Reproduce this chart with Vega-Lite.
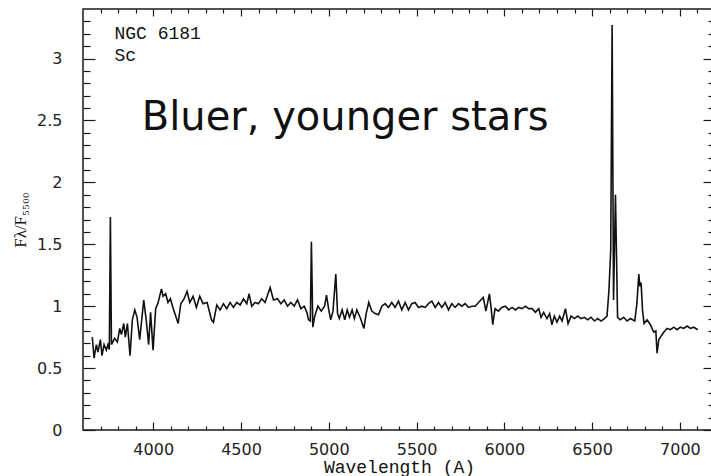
{
  "$schema": "https://vega.github.io/schema/vega-lite/v6.json",
  "width": 632,
  "height": 421,
  "autosize": "none",
  "padding": {"left": 83, "top": 9, "right": -4, "bottom": 46},
  "background": "white",
  "config": {
    "view": {"stroke": "#1a1a1a", "strokeWidth": 1.5},
    "axis": {"domain": false, "grid": false, "tickColor": "#1a1a1a", "tickWidth": 1.2, "labelFont": "DejaVu Sans", "labelFontSize": 16, "labelColor": "#222222"}
  },
  "datasets": {
    "spec": [
      {"wl":3653,"f":0.75},{"wl":3663,"f":0.58},{"wl":3676,"f":0.69},{"wl":3685,"f":0.63},{"wl":3699,"f":0.73},{"wl":3708,"f":0.60},{"wl":3720,"f":0.69},{"wl":3733,"f":0.645},{"wl":3742,"f":0.69},{"wl":3750,"f":0.65},{"wl":3756,"f":1.72},{"wl":3762,"f":0.69},{"wl":3780,"f":0.74},{"wl":3796,"f":0.71},{"wl":3809,"f":0.82},{"wl":3819,"f":0.77},{"wl":3832,"f":0.86},{"wl":3841,"f":0.75},{"wl":3853,"f":0.86},{"wl":3868,"f":0.60},{"wl":3881,"f":0.89},{"wl":3895,"f":0.97},{"wl":3908,"f":0.91},{"wl":3923,"f":0.73},{"wl":3946,"f":1.05},{"wl":3960,"f":0.89},{"wl":3974,"f":0.69},{"wl":3985,"f":0.95},{"wl":3999,"f":0.645},{"wl":4014,"f":0.98},{"wl":4028,"f":1.03},{"wl":4047,"f":1.14},{"wl":4056,"f":1.08},{"wl":4071,"f":1.10},{"wl":4084,"f":1.03},{"wl":4098,"f":1.06},{"wl":4112,"f":0.99},{"wl":4142,"f":0.86},{"wl":4157,"f":1.02},{"wl":4176,"f":1.06},{"wl":4193,"f":1.12},{"wl":4208,"f":1.03},{"wl":4227,"f":1.08},{"wl":4246,"f":0.99},{"wl":4265,"f":1.08},{"wl":4284,"f":1.02},{"wl":4307,"f":1.03},{"wl":4332,"f":0.89},{"wl":4343,"f":0.87},{"wl":4362,"f":1.01},{"wl":4381,"f":0.97},{"wl":4400,"f":1.02},{"wl":4419,"f":0.98},{"wl":4438,"f":1.03},{"wl":4457,"f":0.99},{"wl":4476,"f":1.03},{"wl":4495,"f":1.01},{"wl":4514,"f":1.06},{"wl":4533,"f":1.02},{"wl":4546,"f":1.10},{"wl":4561,"f":1.00},{"wl":4580,"f":1.03},{"wl":4599,"f":1.02},{"wl":4618,"f":1.06},{"wl":4637,"f":1.03},{"wl":4666,"f":1.15},{"wl":4685,"f":1.05},{"wl":4708,"f":1.06},{"wl":4727,"f":1.02},{"wl":4746,"f":1.05},{"wl":4765,"f":1.00},{"wl":4784,"f":1.03},{"wl":4803,"f":1.00},{"wl":4822,"f":1.05},{"wl":4841,"f":0.98},{"wl":4860,"f":1.00},{"wl":4875,"f":0.95},{"wl":4885,"f":0.89},{"wl":4895,"f":0.88},{"wl":4901,"f":1.52},{"wl":4909,"f":0.83},{"wl":4920,"f":0.92},{"wl":4938,"f":1.00},{"wl":4957,"f":0.96},{"wl":4976,"f":1.00},{"wl":4987,"f":1.09},{"wl":5000,"f":0.97},{"wl":5011,"f":0.89},{"wl":5024,"f":0.96},{"wl":5040,"f":1.26},{"wl":5050,"f":0.94},{"wl":5060,"f":0.90},{"wl":5076,"f":0.97},{"wl":5091,"f":0.89},{"wl":5105,"f":0.97},{"wl":5118,"f":0.91},{"wl":5133,"f":0.97},{"wl":5146,"f":0.90},{"wl":5160,"f":0.97},{"wl":5181,"f":0.90},{"wl":5200,"f":0.82},{"wl":5213,"f":0.94},{"wl":5228,"f":1.03},{"wl":5245,"f":0.96},{"wl":5264,"f":0.94},{"wl":5283,"f":0.93},{"wl":5302,"f":1.00},{"wl":5321,"f":1.02},{"wl":5340,"f":0.99},{"wl":5359,"f":1.03},{"wl":5378,"f":0.99},{"wl":5397,"f":1.04},{"wl":5416,"f":0.97},{"wl":5435,"f":1.03},{"wl":5454,"f":0.97},{"wl":5473,"f":1.02},{"wl":5492,"f":1.03},{"wl":5511,"f":0.99},{"wl":5530,"f":1.00},{"wl":5549,"f":0.99},{"wl":5568,"f":1.02},{"wl":5587,"f":1.04},{"wl":5606,"f":0.99},{"wl":5625,"f":1.03},{"wl":5644,"f":0.99},{"wl":5663,"f":1.03},{"wl":5682,"f":0.97},{"wl":5701,"f":1.02},{"wl":5720,"f":0.99},{"wl":5739,"f":1.02},{"wl":5758,"f":1.00},{"wl":5777,"f":1.02},{"wl":5796,"f":0.99},{"wl":5815,"f":1.00},{"wl":5834,"f":1.00},{"wl":5853,"f":1.03},{"wl":5880,"f":1.07},{"wl":5895,"f":0.96},{"wl":5915,"f":1.10},{"wl":5926,"f":0.97},{"wl":5934,"f":0.85},{"wl":5947,"f":0.98},{"wl":5966,"f":0.96},{"wl":5985,"f":0.99},{"wl":6006,"f":1.00},{"wl":6025,"f":0.97},{"wl":6044,"f":0.99},{"wl":6063,"f":0.97},{"wl":6082,"f":0.99},{"wl":6101,"f":0.98},{"wl":6120,"f":1.00},{"wl":6139,"f":0.98},{"wl":6158,"f":0.98},{"wl":6177,"f":0.95},{"wl":6196,"f":0.98},{"wl":6209,"f":0.91},{"wl":6224,"f":0.95},{"wl":6243,"f":0.90},{"wl":6258,"f":0.94},{"wl":6271,"f":0.85},{"wl":6285,"f":0.92},{"wl":6300,"f":0.87},{"wl":6315,"f":0.92},{"wl":6329,"f":0.88},{"wl":6348,"f":0.98},{"wl":6363,"f":0.86},{"wl":6380,"f":0.92},{"wl":6399,"f":0.90},{"wl":6418,"f":0.92},{"wl":6437,"f":0.90},{"wl":6456,"f":0.91},{"wl":6475,"f":0.89},{"wl":6494,"f":0.91},{"wl":6513,"f":0.88},{"wl":6532,"f":0.90},{"wl":6551,"f":0.88},{"wl":6570,"f":0.90},{"wl":6585,"f":0.92},{"wl":6596,"f":1.13},{"wl":6606,"f":1.45},{"wl":6614,"f":3.27},{"wl":6622,"f":1.05},{"wl":6633,"f":1.90},{"wl":6645,"f":0.91},{"wl":6660,"f":0.89},{"wl":6680,"f":0.91},{"wl":6699,"f":0.88},{"wl":6718,"f":0.90},{"wl":6743,"f":0.88},{"wl":6755,"f":1.02},{"wl":6766,"f":1.26},{"wl":6772,"f":1.16},{"wl":6779,"f":1.19},{"wl":6787,"f":0.97},{"wl":6796,"f":0.86},{"wl":6813,"f":0.89},{"wl":6832,"f":0.85},{"wl":6851,"f":0.79},{"wl":6863,"f":0.80},{"wl":6870,"f":0.62},{"wl":6880,"f":0.73},{"wl":6889,"f":0.75},{"wl":6908,"f":0.79},{"wl":6927,"f":0.82},{"wl":6946,"f":0.81},{"wl":6965,"f":0.83},{"wl":6984,"f":0.81},{"wl":7003,"f":0.83},{"wl":7022,"f":0.82},{"wl":7041,"f":0.84},{"wl":7060,"f":0.82},{"wl":7079,"f":0.83},{"wl":7102,"f":0.81}
    ],
    "notes": [
      {"wl": 3779, "f": 3.158, "label": "NGC 6181"},
      {"wl": 3779, "f": 2.983, "label": "Sc"}
    ],
    "big": [
      {"wl": 3935, "f": 2.423, "label": "Bluer, younger stars"}
    ]
  },
  "resolve": {"axis": {"x": "independent", "y": "independent"}},
  "layer": [
    {
      "data": {"name": "spec"},
      "mark": {"type": "line", "color": "#111111", "strokeWidth": 1.6, "interpolate": "linear"},
      "encoding": {
        "x": {"field": "wl", "type": "quantitative", "scale": {"domain": [3600, 7200], "nice": false, "zero": false},
          "axis": {"orient": "bottom", "values": [4000, 4500, 5000, 5500, 6000, 6500, 7000], "tickSize": -8, "labelPadding": 19, "format": "d",
            "title": "Wavelength  (A)", "titleFont": "Liberation Mono", "titleFontSize": 18, "titleFontWeight": "normal", "titleColor": "#111111", "titleY": 42, "titleBaseline": "alphabetic"}},
        "y": {"field": "f", "type": "quantitative", "scale": {"domain": [0, 3.4], "nice": false, "zero": false},
          "axis": {"orient": "left", "values": [0, 0.5, 1, 1.5, 2, 2.5, 3], "tickSize": -12, "labelPadding": 33, "format": "~g",
            "title": "Fλ/F₅₅₀₀", "titleFont": "Liberation Serif, DejaVu Serif", "titleFontSize": 17, "titleFontWeight": "normal", "titleColor": "#111111", "titleX": -63, "titleBaseline": "middle"}}
      }
    },
    {
      "data": {"name": "notes"},
      "mark": {"type": "text", "font": "Liberation Mono", "fontSize": 18, "align": "left", "baseline": "alphabetic", "color": "#111111"},
      "encoding": {
        "x": {"field": "wl", "type": "quantitative", "axis": {"orient": "bottom", "values": [3700,3800,3900,4100,4200,4300,4400,4600,4700,4800,4900,5100,5200,5300,5400,5600,5700,5800,5900,6100,6200,6300,6400,6600,6700,6800,6900,7100], "tickSize": -4, "labels": false, "title": null}},
        "y": {"field": "f", "type": "quantitative", "axis": {"orient": "left", "values": [0.1,0.2,0.3,0.4,0.6,0.7,0.8,0.9,1.1,1.2,1.3,1.4,1.6,1.7,1.8,1.9,2.1,2.2,2.3,2.4,2.6,2.7,2.8,2.9,3.1,3.2,3.3], "tickSize": -7, "labels": false, "title": null}},
        "text": {"field": "label"}
      }
    },
    {
      "data": {"name": "big"},
      "mark": {"type": "text", "font": "DejaVu Sans", "fontSize": 40, "align": "left", "baseline": "alphabetic", "color": "#111111"},
      "encoding": {
        "x": {"field": "wl", "type": "quantitative", "axis": {"orient": "top", "values": [4000, 4500, 5000, 5500, 6000, 6500, 7000], "tickSize": -7, "labels": false, "title": null}},
        "y": {"field": "f", "type": "quantitative", "axis": {"orient": "right", "values": [0, 0.5, 1, 1.5, 2, 2.5, 3], "tickSize": -12, "labels": false, "title": null}},
        "text": {"field": "label"}
      }
    },
    {
      "data": {"name": "big"},
      "mark": {"type": "point", "opacity": 0},
      "encoding": {
        "x": {"field": "wl", "type": "quantitative", "axis": {"orient": "top", "values": [3700,3800,3900,4100,4200,4300,4400,4600,4700,4800,4900,5100,5200,5300,5400,5600,5700,5800,5900,6100,6200,6300,6400,6600,6700,6800,6900,7100], "tickSize": -4, "labels": false, "title": null}},
        "y": {"field": "f", "type": "quantitative", "axis": {"orient": "right", "values": [0.1,0.2,0.3,0.4,0.6,0.7,0.8,0.9,1.1,1.2,1.3,1.4,1.6,1.7,1.8,1.9,2.1,2.2,2.3,2.4,2.6,2.7,2.8,2.9,3.1,3.2,3.3], "tickSize": -7, "labels": false, "title": null}}
      }
    }
  ]
}
